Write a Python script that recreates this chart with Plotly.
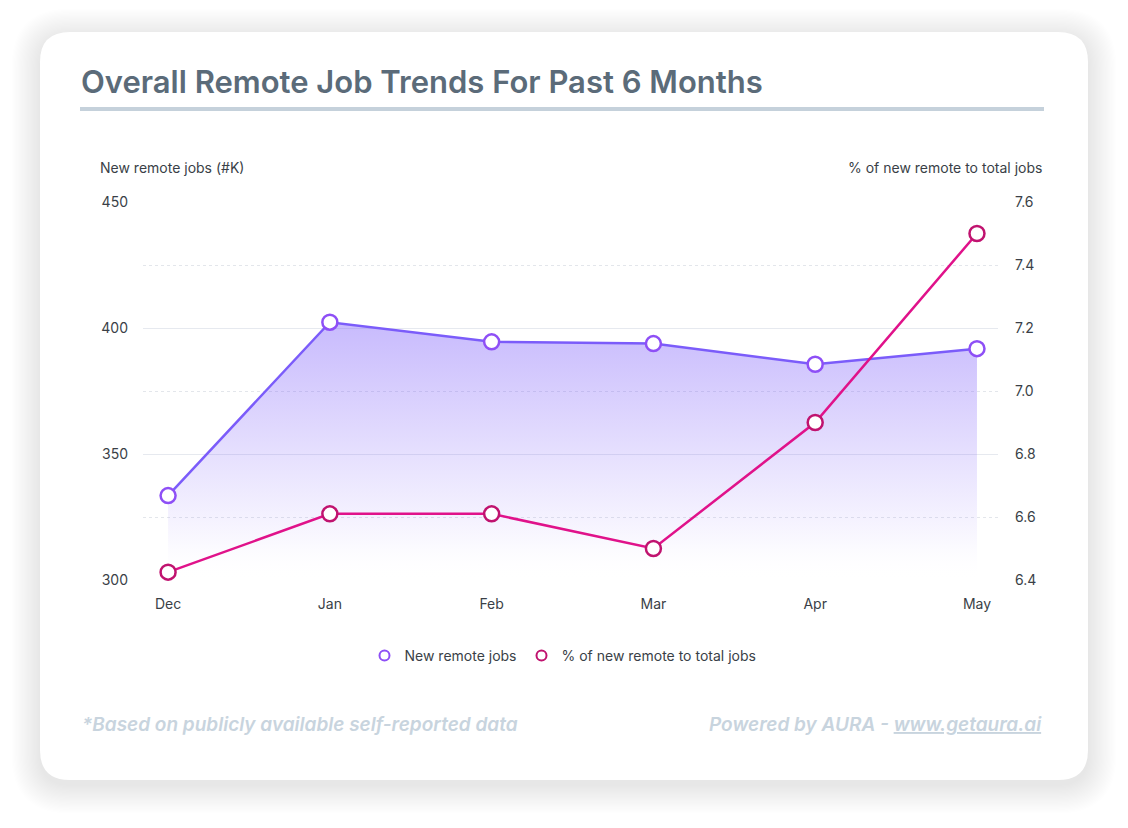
import plotly.graph_objects as go

months = ["Dec", "Jan", "Feb", "Mar", "Apr", "May"]
new_remote_jobs = [333.5, 402.3, 394.5, 393.8, 385.6, 391.8]
pct_remote = [6.425, 6.61, 6.61, 6.50, 6.90, 7.50]
left_ticks = [300, 350, 400, 450]
right_ticks = [6.4, 6.6, 6.8, 7.0, 7.2, 7.4, 7.6]

W, H = 1128, 828
L, R, T, B = 143, 130, 202, 248
PW, PH = W - L - R, H - T - B


def px(x):
    return (x - L) / PW


def py(y):
    return (H - B - y) / PH


FONT = "Inter"
PURPLE = "#7B5CFA"
PURPLE_MK = "#8E4FF6"
PINK = "#E0128A"
PINK_MK = "#C0136F"

fig = go.Figure()

# invisible baseline for the gradient area
fig.add_trace(go.Scatter(
    x=months, y=[left_ticks[0]] * len(months), mode="lines",
    line=dict(width=0, color="rgba(0,0,0,0)"), showlegend=False, hoverinfo="skip",
))
fig.add_trace(go.Scatter(
    x=months, y=new_remote_jobs, mode="lines+markers", name="New remote jobs",
    fill="tonexty",
    fillgradient=dict(type="vertical", start=300, stop=402,
                      colorscale=[[0, "rgba(255,255,255,0)"],
                                  [0.15, "rgba(124,92,250,0.04)"],
                                  [1, "rgba(124,92,250,0.42)"]]),
    line=dict(color=PURPLE, width=2.5),
    marker=dict(size=15, color="white", line=dict(color=PURPLE_MK, width=2.5)),
    showlegend=False, cliponaxis=False,
))
fig.add_trace(go.Scatter(
    x=months, y=pct_remote, mode="lines+markers", name="% of new remote to total jobs",
    yaxis="y2",
    line=dict(color=PINK, width=2.5),
    marker=dict(size=15, color="white", line=dict(color=PINK_MK, width=2.5)),
    showlegend=False, cliponaxis=False,
))
# legend entries (markers only)
fig.add_trace(go.Scatter(x=[None], y=[None], mode="markers", name="New remote jobs",
                         legendrank=1,
                         marker=dict(size=10, color="white", line=dict(color=PURPLE_MK, width=2))))
fig.add_trace(go.Scatter(x=[None], y=[None], mode="markers", name="% of new remote to total jobs",
                         legendrank=2,
                         marker=dict(size=10, color="white", line=dict(color=PINK_MK, width=2))))

shapes = []


def rrect(x0, y0, x1, y1, r):
    X0, X1 = px(x0), px(x1)
    Y0, Y1 = py(y0), py(y1)
    rx, ry = r / PW, r / PH
    return (f"M {X0+rx},{Y0} L {X1-rx},{Y0} Q {X1},{Y0} {X1},{Y0-ry} "
            f"L {X1},{Y1+ry} Q {X1},{Y1} {X1-rx},{Y1} L {X0+rx},{Y1} "
            f"Q {X0},{Y1} {X0},{Y1+ry} L {X0},{Y0-ry} Q {X0},{Y0} {X0+rx},{Y0} Z")


# soft shadow
for i in range(24, 0, -1):
    d = i * 1.2
    shapes.append(dict(type="path", xref="paper", yref="paper", layer="below",
                       path=rrect(40 - d, 32 - d + 5, 1088 + d, 780 + d + 5, 30 + d),
                       fillcolor="rgba(60,60,70,0.0035)", line=dict(width=0)))
shapes.append(dict(type="path", xref="paper", yref="paper", layer="below",
                   path=rrect(40, 32, 1088, 780, 30), fillcolor="white", line=dict(width=0)))
# title underline
shapes.append(dict(type="rect", xref="paper", yref="paper", layer="below",
                   x0=px(80), x1=px(1044), y0=py(107), y1=py(111),
                   fillcolor="#C5D1DB", line=dict(width=0)))

annotations = [
    dict(text="Overall Remote Job Trends For Past 6 Months", x=px(79), y=py(81),
         xref="paper", yref="paper", xanchor="left", yanchor="middle", showarrow=False,
         font=dict(family=FONT, size=31, color="#5B6B79", weight=600)),
    dict(text="New remote jobs (#K)", x=px(98), y=py(167), xref="paper", yref="paper",
         xanchor="left", yanchor="middle", showarrow=False,
         font=dict(family=FONT, size=14, color="#3A3F47")),
    dict(text="% of new remote to total jobs", x=px(1044), y=py(167), xref="paper", yref="paper",
         xanchor="right", yanchor="middle", showarrow=False,
         font=dict(family=FONT, size=14, color="#3A3F47")),
    dict(text="<i>*Based on publicly available self-reported data</i>", x=px(80), y=py(724),
         xref="paper", yref="paper", xanchor="left", yanchor="middle", showarrow=False,
         font=dict(family=FONT, size=19, color="#C8D4DE", weight=600)),
    dict(text="<i>Powered by AURA - <u>www.getaura.ai</u></i>", x=px(1044), y=py(724),
         xref="paper", yref="paper", xanchor="right", yanchor="middle", showarrow=False,
         font=dict(family=FONT, size=19, color="#C8D4DE", weight=600)),
]

fig.update_layout(
    width=W, height=H, margin=dict(l=L, r=R, t=T, b=B),
    paper_bgcolor="white", plot_bgcolor="rgba(0,0,0,0)",
    font=dict(family=FONT, size=14, color="#3A3F47"),
    shapes=shapes, annotations=annotations,
    xaxis=dict(type="category", range=[-0.155, 5.13], showgrid=False, zeroline=False,
               showline=False, ticks="", ticklabelstandoff=14,
               tickfont=dict(size=14, color="#3A3F47")),
    yaxis=dict(range=[300, 450], tickvals=left_ticks, showgrid=True, gridcolor="#E6E9EF",
               gridwidth=1, zeroline=False, showline=False, ticks="", ticklabelstandoff=14,
               tickfont=dict(size=14, color="#3A3F47"),
               minor=dict(tickvals=[325, 375, 425], showgrid=True, gridcolor="#E3E6EB",
                          griddash="dot", gridwidth=1)),
    yaxis2=dict(range=[6.4, 7.6], tickvals=right_ticks, tickformat=".1f", overlaying="y",
                side="right", showgrid=False, zeroline=False, showline=False, ticks="",
                ticklabelstandoff=16, tickfont=dict(size=14, color="#3A3F47")),
    legend=dict(orientation="h", x=px(563), xanchor="center", y=py(656), yanchor="middle",
                font=dict(size=14, color="#3A3F47"), itemwidth=30, bgcolor="rgba(0,0,0,0)",
                traceorder="normal"),
    hovermode=False,
)

fig.write_html("out.html")
